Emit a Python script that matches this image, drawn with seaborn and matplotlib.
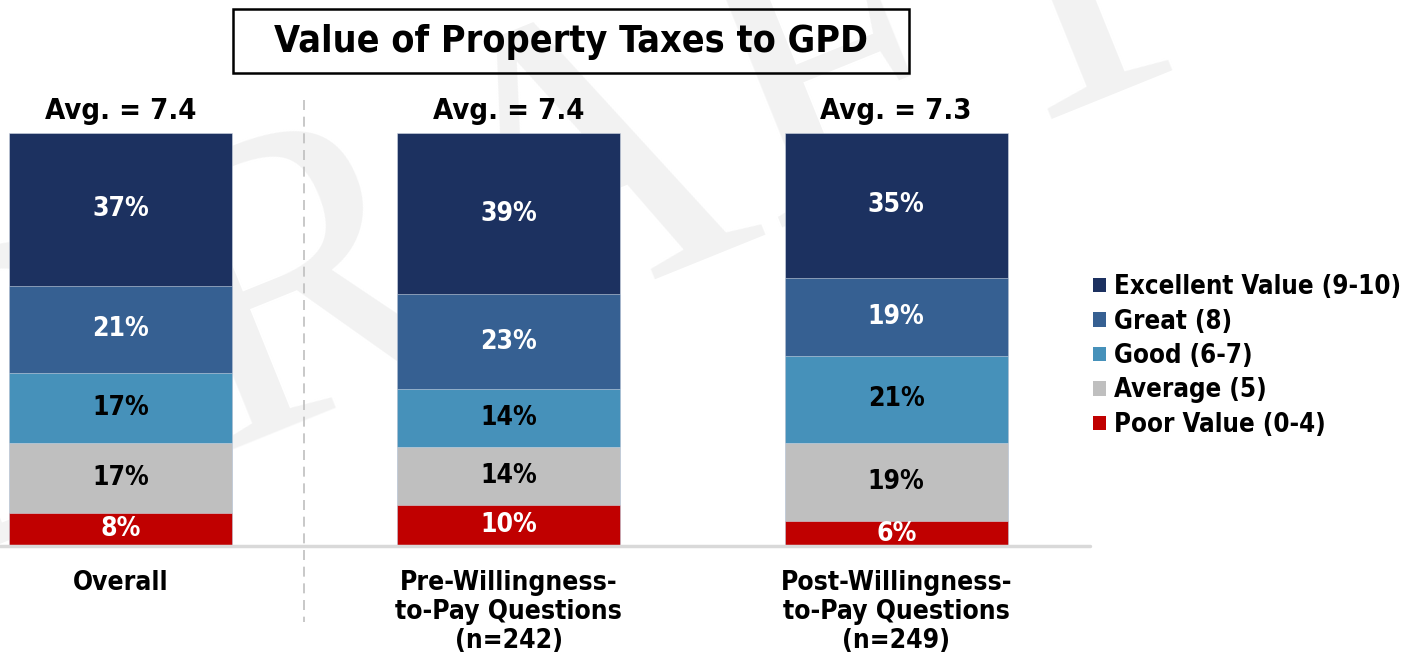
import numpy as np
import pandas as pd
import seaborn as sns
import matplotlib.pyplot as plt
from matplotlib.patches import Patch, Rectangle
from matplotlib.lines import Line2D

groups = ["Overall", "Pre-Willingness-\nto-Pay Questions\n(n=242)", "Post-Willingness-\nto-Pay Questions\n(n=249)"]
averages = ["Avg. = 7.4", "Avg. = 7.4", "Avg. = 7.3"]
ratings = ["Excellent Value (9-10)", "Great (8)", "Good (6-7)", "Average (5)", "Poor Value (0-4)"]
excellent = [37, 39, 35]
great = [21, 23, 19]
good = [17, 14, 21]
average = [17, 14, 19]
poor = [8, 10, 6]
colors = ["#1c3160", "#366092", "#4691ba", "#bfbfbf", "#c00000"]
label_colors = ["white", "white", "black", "black", "white"]

FONT = "DejaVu Sans"
sns.set_style("white")
plt.rcParams["font.family"] = [FONT]
plt.rcParams["font.weight"] = "bold"
plt.rcParams["font.stretch"] = "condensed"
plt.rcParams["text.color"] = "black"
plt.rcParams["xtick.color"] = "black"

# segments from bottom to top
stack = np.array([poor, average, good, great, excellent], dtype=float)
tops = stack.cumsum(axis=0)
seg_colors = colors[::-1]
seg_text = label_colors[::-1]

fig = plt.figure(figsize=(14.16, 6.58), dpi=100)
ax = fig.add_axes([0.0, 1 - 546 / 658, 1090 / 1416, 413 / 658])
ax.patch.set_alpha(0)

# faint watermark behind everything
fig.text(580 / 1416, 1 - 305 / 658, "DRAFT", fontsize=310, family="Liberation Serif",
         fontweight="normal", fontstretch="normal", color="#f2f2f2", rotation=22,
         rotation_mode="anchor", ha="center", va="baseline", zorder=-5)

# draw from the tallest cumulative down so each layer sits on the one below
for i in range(len(stack) - 1, -1, -1):
    df = pd.DataFrame({"group": groups, "value": tops[i]})
    sns.barplot(data=df, x="group", y="value", color=seg_colors[i], width=0.575,
                saturation=1, edgecolor="#d0d8e4", linewidth=0.4, ax=ax, order=groups)

for j in range(len(groups)):
    for i in range(len(stack)):
        mid = tops[i, j] - stack[i, j] / 2
        ax.text(j, mid, f"{int(stack[i, j])}%", ha="center", va="center",
                color=seg_text[i], fontsize=19, fontweight="bold")
    ax.text(j, 105.3, averages[j], ha="center", va="center", fontsize=21, fontweight="bold")

ax.set_xlim(-0.312, 2.5)
ax.set_ylim(0, 100)
ax.set_yticks([])
ax.set_xlabel("")
ax.set_ylabel("")
for s in ax.spines.values():
    s.set_visible(False)
ax.axhline(0, color="#d9d9d9", lw=2.5, zorder=5, clip_on=False)
ax.tick_params(axis="x", length=0, pad=17)
ax.set_xticks(range(len(groups)))
ax.set_xticklabels(groups, fontsize=19, fontweight="bold", linespacing=1.17, va="top")

# separator between overall and the split groups
fig.add_artist(Line2D([304 / 1416, 304 / 1416], [1 - 100 / 658, 1 - 622 / 658],
                      transform=fig.transFigure, color="#bfbfbf", lw=1.2, ls=(0, (6, 4))))

# title box
fig.add_artist(Rectangle((233 / 1416, 1 - 73 / 658), 676 / 1416, 64 / 658, transform=fig.transFigure,
                         fill=False, edgecolor="black", lw=1.8))
fig.text(571 / 1416, 1 - 42 / 658, "Value of Property Taxes to GPD", ha="center", va="center",
         fontsize=27, fontweight="bold")

handles = [Patch(facecolor=c, edgecolor="none") for c in colors]
fig.legend(handles, ratings, loc="center left", bbox_to_anchor=(1070 / 1416, 1 - 356 / 658),
           frameon=False, handlelength=0.5, handleheight=0.5, handletextpad=0.3,
           labelspacing=0.33, prop={"weight": "bold", "size": 18.5, "stretch": "condensed"})

fig.savefig("out.png", dpi=100)
